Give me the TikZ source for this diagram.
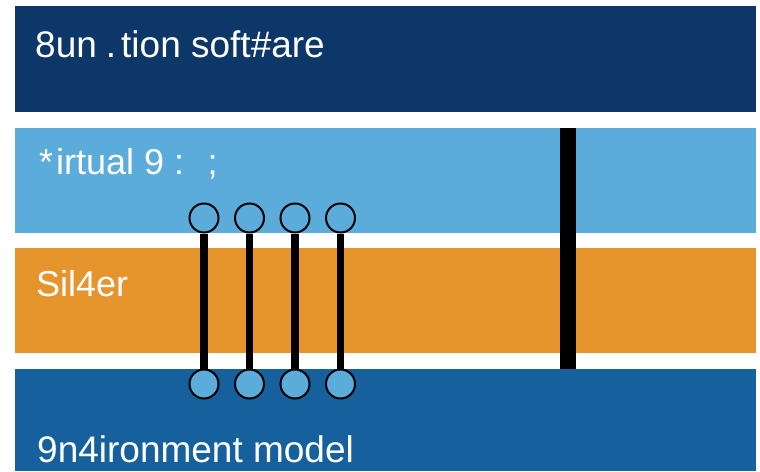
\documentclass[tikz,border=0pt]{standalone}
\usepackage{fontspec}
\setmainfont{Liberation Sans}
\definecolor{navyband}{RGB}{13,55,104}
\definecolor{skyband}{RGB}{91,172,218}
\definecolor{orangeband}{RGB}{230,149,45}
\definecolor{blueband}{RGB}{22,97,157}
\begin{document}
\begin{tikzpicture}[x=1pt,y=-1pt,
  band/.style={draw=none, inner sep=0pt, anchor=north west, minimum width=741pt},
  lbl/.style={text=white, inner sep=0pt, anchor=base west, font=\fontsize{36}{40}\selectfont},
  port/.style={circle, draw=black, line width=2pt, fill=skyband, minimum size=29pt, inner sep=0pt},
  link/.style={line width=7.5pt, black},
  bar/.style={line width=16pt, black}]
\useasboundingbox (0,0) rectangle (760,471);
\fill[white] (0,0) rectangle (760,471);

% layer bands
\node[band, fill=navyband,   minimum height=106pt] (fs)  at (15,6)   {};
\node[band, fill=skyband,    minimum height=105pt] (vh)  at (15,128) {};
\node[band, fill=orangeband, minimum height=105pt] (sil) at (15,248) {};
\node[band, fill=blueband,   minimum height=102pt] (env) at (15,369) {};

% band labels
\node[lbl, font=\fontsize{37}{41}\selectfont] (fsl) at (35,57)
  {8un{\kern9pt}.{\kern5pt}tion soft\#are};
\node[lbl] (vhl)  at (39,174) {*{\kern3pt}irtual 9 : \ ;};
\node[lbl] (sill) at (36,296) {Sil4er};
\node[lbl, font=\fontsize{37}{41}\selectfont] (envl) at (37,462) {9n4ironment model};

% ports and their links
\foreach \i/\x in {1/204,2/249.5,3/295,4/340.5}{
  \node[port] (t\i) at (\x,218) {};
  \node[port] (b\i) at (\x,384) {};
  \draw[link] (t\i) -- (b\i);
}

% solid bar
\coordinate (bt) at (567.5,128);
\coordinate (bb) at (567.5,369);
\draw[bar] (bt) -- (bb);
\end{tikzpicture}
\end{document}
